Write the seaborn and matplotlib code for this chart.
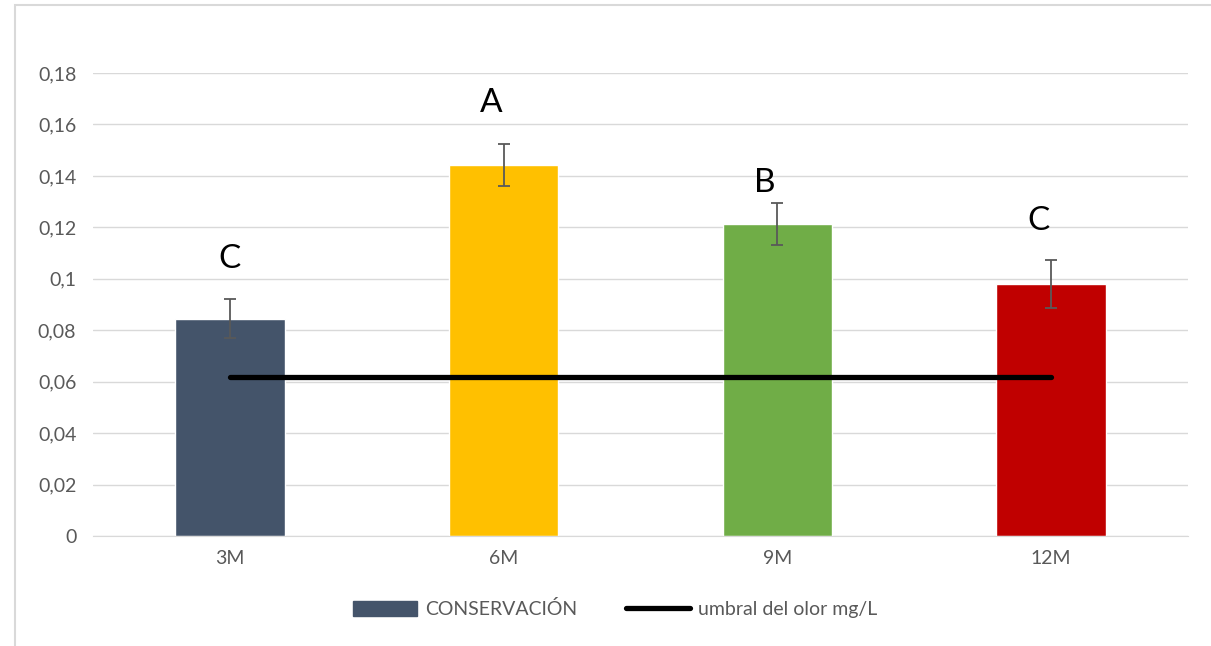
import pandas as pd
import seaborn as sns
import matplotlib.pyplot as plt
from matplotlib.patches import Patch, Rectangle
from matplotlib.lines import Line2D
from matplotlib.ticker import FuncFormatter

meses = ['3M', '6M', '9M', '12M']
valores = [0.0844, 0.1443, 0.1213, 0.0980]
errores = [0.0076, 0.0082, 0.0080, 0.0093]
letras = ['C', 'A', 'B', 'C']
letras_y = [0.1078, 0.1684, 0.1373, 0.1225]
umbral = 0.062
colores = ['#44546A', '#FFC000', '#70AD47', '#C00000']

df = pd.DataFrame({'mes': meses, 'valor': valores})

sns.set_style('white')
plt.rcParams['font.family'] = ['Lato', 'DejaVu Sans']

fig = plt.figure(figsize=(12.11, 6.46), dpi=100)
ax = fig.add_axes([0.0768, 0.1703, 0.9042, 0.7167])

sns.barplot(data=df, x='mes', y='valor', hue='mes', palette=colores,
            width=0.4, legend=False, ax=ax, saturation=1)

pos = range(len(meses))
ax.errorbar(pos, valores, yerr=errores, fmt='none', ecolor='#595959',
            elinewidth=1.3, capsize=4.5, capthick=1.3, zorder=4)

ax.plot([0, len(meses) - 1], [umbral, umbral], color='black', lw=3.8,
        solid_capstyle='round', zorder=5)

# letras puestas a mano en el original
for i, (y, l) in enumerate(zip(letras_y, letras)):
    x = i - 0.045 if i > 0 else i
    ax.text(x, y, l, ha='center', va='center', fontsize=24, color='black')

ax.set_ylim(0, 0.18)
ax.set_xlim(-0.5, 3.5)
ax.set_yticks([i * 0.02 for i in range(10)])
ax.yaxis.set_major_formatter(FuncFormatter(
    lambda v, p: '0' if v == 0 else ('%g' % round(v, 2)).replace('.', ',')))
ax.grid(axis='y', color='#D9D9D9', lw=1)
ax.set_axisbelow(True)
for s in ['top', 'right', 'left']:
    ax.spines[s].set_visible(False)
ax.spines['bottom'].set_color('#D9D9D9')
ax.tick_params(axis='both', length=0, labelsize=14, colors='#595959',
               pad=12)
ax.tick_params(axis='x', pad=10)
ax.set_xlabel('')
ax.set_ylabel('')

handles = [Patch(color=colores[0], label='CONSERVACIÓN'),
           Line2D([], [], color='black', lw=3.8, solid_capstyle='round',
                  label='umbral del olor mg/L')]
leg = fig.legend(handles=handles, loc='center', bbox_to_anchor=(0.508, 0.057),
                 ncol=2, frameon=False, fontsize=14, handlelength=3.3,
                 handletextpad=0.4, columnspacing=2.5, handleheight=0.8)
for t in leg.get_texts():
    t.set_color('#595959')

fig.patches.append(Rectangle((0.0124, -0.01), 1.02, 1.002, transform=fig.transFigure,
                             fill=False, edgecolor='#D9D9D9', lw=1.5))

plt.savefig('out.png', dpi=100)
